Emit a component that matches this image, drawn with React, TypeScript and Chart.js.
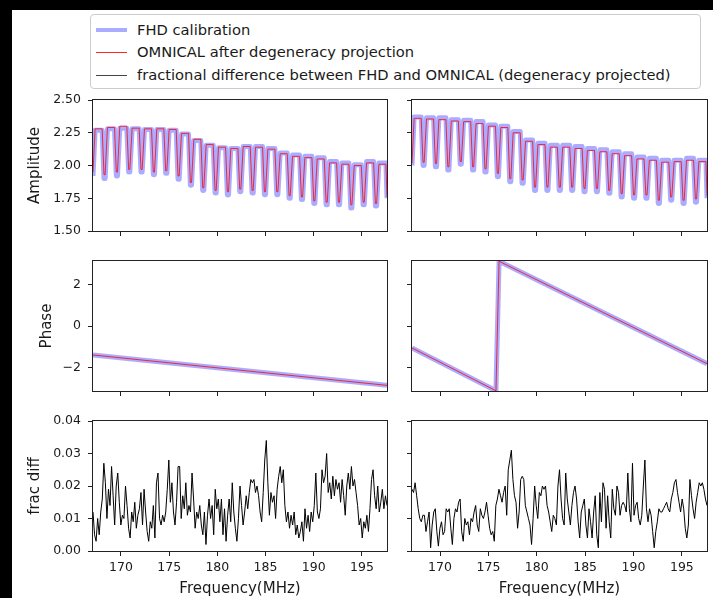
import React, { useEffect, useRef } from "react";
import { Chart, registerables } from "chart.js";

Chart.register(...registerables);

const FONT = "'DejaVu Sans', sans-serif";

// Frequency axis
const FREQ_MIN = 167.1;
const FREQ_MAX = 197.6;
const COARSE_WIDTH = 1.28;
const FREQ_TICKS = [170, 175, 180, 185, 190, 195];

// Y ticks
const AMP_TICKS = [1.5, 1.75, 2.0, 2.25, 2.5];
const PHASE_TICKS = [-2, 0, 2];
const FRAC_TICKS = [0, 0.01, 0.02, 0.03, 0.04];

// Amplitude: per coarse band plateau levels and edge dips (left antenna)
const AMP_L_FHD_TOP = [2.27, 2.28, 2.285, 2.28, 2.275, 2.275, 2.27, 2.24, 2.19, 2.155, 2.135, 2.13, 2.145, 2.145, 2.13, 2.095, 2.08, 2.07, 2.06, 2.03, 2.02, 2.005, 2.03, 2.02];
const AMP_L_FHD_DIP = [1.92, 1.9, 1.92, 1.95, 1.95, 1.93, 1.94, 1.895, 1.85, 1.81, 1.79, 1.775, 1.8, 1.79, 1.777, 1.777, 1.75, 1.74, 1.71, 1.7, 1.7, 1.675, 1.7, 1.69, 1.75];
const AMP_L_OMNI_TOP = [2.28, 2.29, 2.3, 2.285, 2.28, 2.28, 2.275, 2.245, 2.2, 2.16, 2.14, 2.13, 2.145, 2.14, 2.125, 2.09, 2.07, 2.06, 2.05, 2.02, 2.01, 2.0, 2.02, 2.01];
const AMP_L_OMNI_DIP = [1.95, 1.93, 1.95, 1.97, 1.97, 1.95, 1.96, 1.92, 1.87, 1.83, 1.81, 1.8, 1.82, 1.81, 1.8, 1.8, 1.77, 1.76, 1.73, 1.72, 1.72, 1.7, 1.72, 1.71, 1.76];

// Amplitude (right antenna)
const AMP_R_FHD_TOP = [2.37, 2.365, 2.365, 2.35, 2.345, 2.335, 2.31, 2.3, 2.26, 2.195, 2.17, 2.155, 2.155, 2.145, 2.13, 2.12, 2.105, 2.09, 2.065, 2.055, 2.04, 2.04, 2.055, 2.04];
const AMP_R_FHD_DIP = [2.0, 2.0, 1.99, 1.965, 2.01, 1.965, 1.95, 1.915, 1.876, 1.864, 1.81, 1.81, 1.81, 1.81, 1.8, 1.8, 1.788, 1.76, 1.75, 1.75, 1.71, 1.735, 1.71, 1.72, 1.75];
const AMP_R_OMNI_TOP = [2.36, 2.355, 2.35, 2.34, 2.335, 2.32, 2.3, 2.29, 2.25, 2.185, 2.16, 2.14, 2.14, 2.13, 2.115, 2.105, 2.09, 2.075, 2.05, 2.04, 2.025, 2.03, 2.04, 2.03];
const AMP_R_OMNI_DIP = [2.02, 2.025, 2.015, 1.99, 2.03, 1.99, 1.975, 1.94, 1.9, 1.89, 1.835, 1.835, 1.835, 1.835, 1.825, 1.825, 1.81, 1.785, 1.775, 1.775, 1.735, 1.76, 1.735, 1.745, 1.77];

// Phase (vertices)
const PHASE_L_FREQ = [167.1, 197.6];
const PHASE_L_FHD = [-1.4, -2.87];
const PHASE_L_OMNI = [-1.4, -2.87];
const PHASE_R_FREQ = [167.1, 175.78, 176.1, 197.6];
const PHASE_R_FHD = [-1.06, -3.13, 3.13, -1.82];
const PHASE_R_OMNI = [-1.06, -3.13, 3.13, -1.82];

// Fractional difference
const FRAC_L = [
  0.012, 0.005, 0.003, 0.01, 0.005, 0.012, 0.016, 0.027, 0.021, 0.01,
  0.019, 0.014, 0.026, 0.017, 0.008, 0.02, 0.024, 0.015, 0.008, 0.011,
  0.01, 0.02, 0.014, 0.007, 0.004, 0.012, 0.009, 0.015, 0.007, 0.011,
  0.013, 0.018, 0.008, 0.019, 0.012, 0.006, 0.003, 0.009, 0.007, 0.014,
  0.004, 0.021, 0.024, 0.01, 0.008, 0.011, 0.009, 0.012, 0.019, 0.028,
  0.015, 0.021, 0.012, 0.008, 0.015, 0.026, 0.026, 0.01, 0.017, 0.013,
  0.021, 0.011, 0.014, 0.012, 0.024, 0.016, 0.007, 0.012, 0.01, 0.014,
  0.008, 0.005, 0.012, 0.002, 0.011, 0.016, 0.01, 0.014, 0.005, 0.019,
  0.013, 0.016, 0.009, 0.016, 0.005, 0.013, 0.003, 0.011, 0.016, 0.009,
  0.021, 0.012, 0.007, 0.003, 0.01, 0.02, 0.014, 0.008, 0.012, 0.017,
  0.013, 0.018, 0.022, 0.021, 0.022, 0.018, 0.02, 0.017, 0.012, 0.009,
  0.018, 0.028, 0.034, 0.021, 0.011, 0.018, 0.015, 0.017, 0.01, 0.019,
  0.023, 0.026, 0.021, 0.025, 0.014, 0.009, 0.012, 0.007, 0.011, 0.008,
  0.012, 0.005, 0.008, 0.004, 0.006, 0.009, 0.003, 0.013, 0.007, 0.011,
  0.006, 0.012, 0.009, 0.014, 0.024, 0.012, 0.01, 0.013, 0.025, 0.021,
  0.023, 0.03, 0.018, 0.021, 0.016, 0.023, 0.017, 0.022, 0.019, 0.021,
  0.015, 0.022, 0.017, 0.011, 0.02, 0.024, 0.019, 0.026, 0.02, 0.022,
  0.018, 0.014, 0.008, 0.01, 0.004, 0.009, 0.007, 0.011, 0.006, 0.013,
  0.022, 0.025, 0.017, 0.013, 0.02, 0.012, 0.015, 0.019, 0.013, 0.017,
  0.014,
];
const FRAC_R = [
  0.019, 0.018, 0.021, 0.017, 0.013, 0.01, 0.009, 0.011, 0.011, 0.006,
  0.009, 0.012, 0.001, 0.008, 0.012, 0.013, 0.006, 0.0015, 0.007, 0.009,
  0.005, 0.006, 0.013, 0.012, 0.013, 0.007, 0.002, 0.01, 0.013, 0.012,
  0.015, 0.016, 0.006, 0.003, 0.01, 0.008, 0.009, 0.005, 0.01, 0.009,
  0.012, 0.014, 0.008, 0.006, 0.013, 0.011, 0.01, 0.012, 0.015, 0.011,
  0.007, 0.005, 0.006, 0.003, 0.014, 0.016, 0.019, 0.017, 0.015, 0.018,
  0.02, 0.011, 0.025, 0.028, 0.031, 0.022, 0.017, 0.015, 0.007, 0.012,
  0.022, 0.023, 0.022, 0.014, 0.012, 0.01, 0.008, 0.002, 0.01, 0.02,
  0.014, 0.01, 0.018, 0.017, 0.02, 0.019, 0.02, 0.014, 0.012, 0.009,
  0.006, 0.011, 0.01, 0.008, 0.02, 0.025, 0.016, 0.01, 0.008, 0.024,
  0.016, 0.012, 0.008, 0.014, 0.018, 0.02, 0.016, 0.009, 0.004, 0.012,
  0.014, 0.016, 0.008, 0.004, 0.013, 0.009, 0.004, 0.012, 0.017, 0.005,
  0.001, 0.018, 0.009, 0.021, 0.019, 0.007, 0.017, 0.009, 0.004, 0.019,
  0.013, 0.011, 0.02, 0.018, 0.011, 0.014, 0.015, 0.014, 0.012, 0.024,
  0.013, 0.009, 0.027, 0.011, 0.014, 0.015, 0.01, 0.008, 0.011, 0.02,
  0.028, 0.013, 0.009, 0.013, 0.011, 0.006, 0.001, 0.006, 0.009, 0.013,
  0.012, 0.012, 0.013, 0.014, 0.015, 0.013, 0.012, 0.016, 0.018, 0.021,
  0.022, 0.018, 0.015, 0.012, 0.016, 0.013, 0.007, 0.004, 0.008, 0.022,
  0.017, 0.013, 0.01, 0.015, 0.018, 0.021, 0.02, 0.021, 0.019, 0.016,
  0.014,
];

const FHD_COLOR = "rgba(0, 0, 255, 0.33)";
const OMNI_COLOR = "rgba(255, 0, 0, 0.85)";
const FRAC_COLOR = "#000000";
const AXIS_COLOR = "#222222";
const TEXT_COLOR = "#1a1a1a";

function bandPoints(top: number[], dip: number[]) {
  const pts: { x: number; y: number }[] = [];
  for (let k = 0; k < top.length; k++) {
    const s = FREQ_MIN + k * COARSE_WIDTH;
    if (k === 0) {
      pts.push({ x: FREQ_MIN, y: dip[0] });
    } else {
      pts.push({ x: s - 0.14, y: dip[k] });
      pts.push({ x: s - 0.02, y: dip[k] });
    }
    pts.push({ x: s + 0.22, y: top[k] });
    pts.push({ x: s + 0.95, y: top[k] });
  }
  pts.push({ x: FREQ_MAX, y: dip[top.length] });
  return pts;
}

function vertexPoints(xs: number[], ys: number[]) {
  return xs.map((x, i) => ({ x, y: ys[i] }));
}

function seriesPoints(ys: number[]) {
  const step = (FREQ_MAX - FREQ_MIN) / (ys.length - 1);
  return ys.map((y, i) => ({ x: FREQ_MIN + i * step, y }));
}

function fhdDs(data: any[]) {
  return { label: "FHD calibration", data, borderColor: FHD_COLOR, borderWidth: 5, order: 2, clip: 0 };
}
function omniDs(data: any[]) {
  return { label: "OMNICAL after degeneracy projection", data, borderColor: OMNI_COLOR, borderWidth: 0.9, order: 1, clip: 0 };
}
function fracDs(data: any[]) {
  return { label: "fractional difference", data, borderColor: FRAC_COLOR, borderWidth: 1, order: 1, clip: 0 };
}

const framePlugin = {
  id: "frame",
  afterDraw(chart: any) {
    const { ctx, chartArea: a } = chart;
    ctx.save();
    ctx.strokeStyle = AXIS_COLOR;
    ctx.lineWidth = 1;
    const l = Math.round(a.left) - 0.5;
    const t = Math.round(a.top) - 0.5;
    const r = Math.round(a.right) + 0.5;
    const b = Math.round(a.bottom) + 0.5;
    ctx.strokeRect(l, t, r - l, b - t);
    ctx.restore();
  },
};

const fmtFixed2 = (v: number) => v.toFixed(2);
const fmtPhase = (v: number) => (v < 0 ? "\u2212" + Math.abs(v) : String(v));
const fmtFreq = (v: number) => String(v);

type Spec = {
  key: string;
  plot: [number, number, number, number];
  canvas: [number, number, number, number];
  datasets: any[];
  yMin: number;
  yMax: number;
  yTicks: number[];
  yFmt: (v: number) => string;
  yTitle: string | null;
  showYLabels: boolean;
  showXLabels: boolean;
};

function buildConfig(s: Spec): any {
  const [pl, pt, pr, pb] = s.plot;
  const [cl, ct, cr, cb] = s.canvas;
  return {
    type: "line",
    data: { datasets: s.datasets },
    options: {
      animation: false,
      responsive: false,
      maintainAspectRatio: false,
      devicePixelRatio: 1,
      events: [],
      layout: { padding: { left: 0, top: pt - ct, right: cr - pr, bottom: 0 } },
      plugins: { legend: { display: false }, tooltip: { enabled: false } },
      elements: {
        point: { radius: 0 },
        line: { tension: 0, borderJoinStyle: "round", fill: false },
      },
      scales: {
        x: {
          type: "linear",
          min: FREQ_MIN,
          max: FREQ_MAX,
          afterFit: (sc: any) => {
            sc.height = cb - pb;
            sc.paddingLeft = 0;
            sc.paddingRight = 0;
            sc.paddingTop = 0;
            sc.paddingBottom = 0;
          },
          afterBuildTicks: (sc: any) => {
            sc.ticks = FREQ_TICKS.map((v) => ({ value: v }));
          },
          ticks: {
            display: s.showXLabels,
            autoSkip: false,
            maxRotation: 0,
            padding: 4,
            color: TEXT_COLOR,
            font: { family: FONT, size: 12.5 },
            callback: (v: number) => fmtFreq(v),
          },
          grid: { display: true, drawOnChartArea: false, drawTicks: true, tickLength: 5, color: AXIS_COLOR, lineWidth: 1 },
          border: { display: false },
          title: {
            display: s.showXLabels,
            text: "Frequency(MHz)",
            color: TEXT_COLOR,
            font: { family: FONT, size: 15 },
            padding: 0,
          },
        },
        y: {
          type: "linear",
          min: s.yMin,
          max: s.yMax,
          afterFit: (sc: any) => {
            sc.width = pl - cl;
            sc.paddingLeft = 0;
            sc.paddingRight = 0;
            sc.paddingTop = 0;
            sc.paddingBottom = 0;
          },
          afterBuildTicks: (sc: any) => {
            sc.ticks = s.yTicks.map((v) => ({ value: v }));
          },
          ticks: {
            display: s.showYLabels,
            autoSkip: false,
            padding: 7,
            color: TEXT_COLOR,
            font: { family: FONT, size: 12.5 },
            callback: (v: number) => s.yFmt(v),
          },
          grid: { display: true, drawOnChartArea: false, drawTicks: true, tickLength: 5, color: AXIS_COLOR, lineWidth: 1 },
          border: { display: false },
          title: {
            display: !!s.yTitle,
            text: s.yTitle || "",
            color: TEXT_COLOR,
            font: { family: FONT, size: 15 },
            padding: 0,
          },
        },
      },
    },
    plugins: [framePlugin],
  };
}

function Panel({ spec }: { spec: Spec }) {
  const ref = useRef<HTMLCanvasElement | null>(null);
  useEffect(() => {
    if (!ref.current) return;
    const chart = new Chart(ref.current, buildConfig(spec));
    return () => chart.destroy();
  }, []);
  const [cl, ct, cr, cb] = spec.canvas;
  return (
    <canvas
      ref={ref}
      width={cr - cl}
      height={cb - ct}
      style={{ position: "absolute", left: cl, top: ct, width: cr - cl, height: cb - ct }}
    />
  );
}

const COL_L: [number, number] = [93, 387];
const COL_R: [number, number] = [412, 707];
const ROWS: [number, number][] = [
  [100, 231],
  [261, 391],
  [421, 551],
];

function specs(): Spec[] {
  const out: Spec[] = [];
  const rowDefs = [
    {
      yMin: 1.5, yMax: 2.5, yTicks: AMP_TICKS, yFmt: fmtFixed2, yTitle: "Amplitude", titleLeft: 26,
      left: [fhdDs(bandPoints(AMP_L_FHD_TOP, AMP_L_FHD_DIP)), omniDs(bandPoints(AMP_L_OMNI_TOP, AMP_L_OMNI_DIP))],
      right: [fhdDs(bandPoints(AMP_R_FHD_TOP, AMP_R_FHD_DIP)), omniDs(bandPoints(AMP_R_OMNI_TOP, AMP_R_OMNI_DIP))],
    },
    {
      yMin: -3.1416, yMax: 3.1416, yTicks: PHASE_TICKS, yFmt: fmtPhase, yTitle: "Phase", titleLeft: 38,
      left: [fhdDs(vertexPoints(PHASE_L_FREQ, PHASE_L_FHD)), omniDs(vertexPoints(PHASE_L_FREQ, PHASE_L_OMNI))],
      right: [fhdDs(vertexPoints(PHASE_R_FREQ, PHASE_R_FHD)), omniDs(vertexPoints(PHASE_R_FREQ, PHASE_R_OMNI))],
    },
    {
      yMin: 0, yMax: 0.04, yTicks: FRAC_TICKS, yFmt: fmtFixed2, yTitle: "frac diff", titleLeft: 26,
      left: [fracDs(seriesPoints(FRAC_L))],
      right: [fracDs(seriesPoints(FRAC_R))],
    },
  ];
  rowDefs.forEach((rd, r) => {
    const [pt, pb] = ROWS[r];
    const last = r === ROWS.length - 1;
    const cb = last ? 598 : pb + 10;
    out.push({
      key: `l${r}`,
      plot: [COL_L[0], pt, COL_L[1], pb],
      canvas: [rd.titleLeft, pt - 6, COL_L[1] + 4, cb],
      datasets: rd.left,
      yMin: rd.yMin, yMax: rd.yMax, yTicks: rd.yTicks, yFmt: rd.yFmt,
      yTitle: rd.yTitle, showYLabels: true, showXLabels: last,
    });
    out.push({
      key: `r${r}`,
      plot: [COL_R[0], pt, COL_R[1], pb],
      canvas: [COL_R[0] - 10, pt - 6, 713, cb],
      datasets: rd.right,
      yMin: rd.yMin, yMax: rd.yMax, yTicks: rd.yTicks, yFmt: rd.yFmt,
      yTitle: null, showYLabels: false, showXLabels: last,
    });
  });
  return out;
}

const LEGEND_ITEMS = [
  { text: "FHD calibration", color: FHD_COLOR, thickness: 4 },
  { text: "OMNICAL after degeneracy projection", color: OMNI_COLOR, thickness: 1 },
  { text: "fractional difference between FHD and OMNICAL (degeneracy projected)", color: "#444444", thickness: 1 },
];
const LEGEND_ROW_Y = [30, 52, 75];

export default function App() {
  useEffect(() => {
    document.body.style.margin = "0";
    document.body.style.background = "#000";
  }, []);
  return (
    <div style={{ position: "fixed", left: 0, top: 0, width: 713, height: 598, background: "#000", overflow: "hidden" }}>
      <div style={{ position: "absolute", left: 12, top: 10, right: 0, bottom: 0, background: "#fff" }} />
      <div
        style={{
          position: "absolute",
          left: 90,
          top: 14,
          width: 611,
          height: 75,
          border: "1px solid #cccccc",
          borderRadius: 4,
          boxSizing: "border-box",
          background: "#fff",
        }}
      />
      {LEGEND_ITEMS.map((it, i) => (
        <div
          key={it.text}
          style={{
            position: "absolute",
            left: 96,
            top: LEGEND_ROW_Y[i] - 10,
            height: 20,
            display: "flex",
            alignItems: "center",
            whiteSpace: "nowrap",
          }}
        >
          <div style={{ width: 31, height: it.thickness, background: it.color, marginRight: 10 }} />
          <span style={{ fontFamily: FONT, fontSize: 14.7, color: TEXT_COLOR, lineHeight: "20px" }}>{it.text}</span>
        </div>
      ))}
      {specs().map((s) => (
        <Panel key={s.key} spec={s} />
      ))}
    </div>
  );
}
